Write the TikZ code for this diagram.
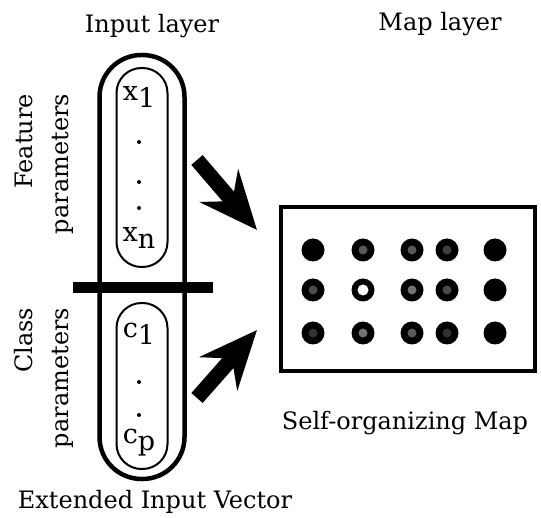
\documentclass[tikz,border=0pt]{standalone}
\usepackage{fontspec}
\setmainfont{DejaVu Serif}
\usetikzlibrary{arrows.meta, positioning}

% subscripted vector entries, set upright as in the figure
\newcommand{\vent}[2]{#1\raisebox{-7pt}{#2}}

\tikzset{
  capsule/.style={rectangle, draw, line width=4.5pt, rounded corners=42pt,
    minimum width=85pt, minimum height=424pt, inner sep=0pt},
  incapsule/.style={rectangle, draw, line width=2pt, rounded corners=25pt,
    minimum width=51pt, inner sep=0pt},
  entry/.style={font=\fontsize{27}{30}\selectfont, inner sep=0pt},
  vdot/.style={circle, fill, inner sep=0pt, minimum size=4pt},
  title/.style={font=\fontsize{24}{28}\selectfont, inner sep=0pt, anchor=base},
  sidelabel/.style={font=\fontsize{24}{36}\selectfont, rotate=90,
    align=right, inner sep=0pt},
  fatarrow/.style={line width=15pt, -{Stealth[length=58pt, width=50pt, inset=20pt]}},
  unit/.style={circle, fill=black, inner sep=0pt, minimum size=23pt},
}

\begin{document}
\begin{tikzpicture}[x=1pt, y=-1pt]
  \useasboundingbox (0,0) rectangle (541,518);

  % Input layer
  \node[title] (intitle) at (152,33) {Input layer};
  \node[capsule] (invec) at (142,267) {};
  \node[incapsule, minimum height=199pt] (feat) at (142,167.5) {};
  \node[incapsule, minimum height=166pt] (cls) at (142,386) {};
  \fill (73,282) rectangle (213,293);

  % Feature entries
  \node[entry] (x1) at (139,97) {\vent{x}{1}};
  \node[vdot] (fd1) at (139,142) {};
  \node[vdot] (fd2) at (139,182) {};
  \node[vdot] (fd3) at (139,208) {};
  \node[entry] (xn) at (139,238) {\vent{x}{n}};

  % Class entries
  \node[entry] (c1) at (139,334) {\vent{c}{1}};
  \node[vdot] (cd1) at (139,382) {};
  \node[vdot] (cd2) at (139,415) {};
  \node[entry] (cp) at (139,443) {\vent{c}{p}};

  % Side labels
  \node[sidelabel] (featlbl) at (44,164) {Feature\\parameters};
  \node[sidelabel] (clslbl) at (44,378) {Class\\parameters};
  \node[title] (extlbl) at (155,508) {Extended Input Vector};

  % Map layer
  \node[title] (maptitle) at (440,31) {Map layer};
  \node[rectangle, draw, line width=4.5pt, minimum width=254pt,
    minimum height=164pt, inner sep=0pt] (map) at (408,289) {};
  \node[title] (somlbl) at (405,430) {Self-organizing Map};

  % Units of the map, shaded by activation
  \foreach \x/\col in {313/1, 363/2, 412/3, 447/4, 495/5}
    \foreach \y/\row in {250/1, 290/2, 333/3}
      \node[unit] (u\row\col) at (\x,\y) {};
  \foreach \n/\shade in {u12/65, u13/65, u14/75, u21/70, u23/55, u24/70,
                        u31/80, u32/55, u33/65, u34/80}
    \fill[black!\shade] (\n) circle (4.5pt);
  \fill[white] (u22) circle (5.5pt);

  % Projections onto the map
  \coordinate (ftail) at (197,160);
  \coordinate (fhead) at (257,230);
  \coordinate (ctail) at (197,398);
  \coordinate (chead) at (257,330);
  \draw[fatarrow] (ftail) -- (fhead);
  \draw[fatarrow] (ctail) -- (chead);
\end{tikzpicture}
\end{document}
